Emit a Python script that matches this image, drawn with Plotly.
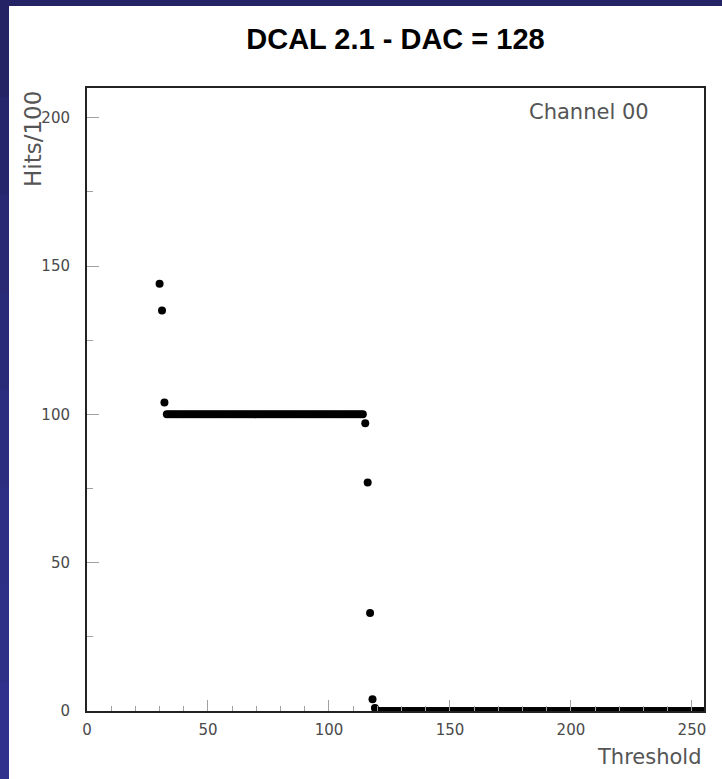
import plotly.graph_objects as go

# ---- data ----
thresholds = list(range(30, 256))
hits = ([144, 135, 104] + [100] * 82 + [97, 77, 33, 4, 1] + [0] * 136)

x_tick_vals = [0, 50, 100, 150, 200, 250]
y_tick_vals = [0, 50, 100, 150, 200]

title_text = "DCAL 2.1 - DAC = 128"
x_title = "Threshold"
y_title = "Hits/100"
channel_label = "Channel 00"

W, H = 722, 779
ML, MR, MT, MB = 87, 18, 88, 68
PW, PH = W - ML - MR, H - MT - MB


def px_to_paper_x(px):
    return (px - ML) / PW


def px_to_paper_y(py):
    return (H - MB - py) / PH


fig = go.Figure()
fig.add_trace(go.Scatter(
    x=thresholds, y=hits, mode="markers",
    marker=dict(color="black", size=8, symbol="circle", line=dict(width=0)),
    showlegend=False, hoverinfo="x+y",
))

tick_font = dict(family="DejaVu Sans", size=15, color="#4a4a4a")

fig.update_xaxes(
    range=[0, 255], tickvals=x_tick_vals, ticks="inside", ticklen=11,
    tickcolor="#a0a0a0", tickwidth=1,
    minor=dict(dtick=10, tick0=0, ticks="inside", ticklen=5, tickcolor="#a0a0a0", tickwidth=1),
    showgrid=False, zeroline=False, showline=True, linecolor="#222222", linewidth=2,
    mirror=True, tickfont=tick_font, ticklabelstandoff=4,
)
fig.update_yaxes(
    range=[0, 210], tickvals=y_tick_vals, ticks="inside", ticklen=12,
    tickcolor="#a0a0a0", tickwidth=1,
    minor=dict(dtick=25, tick0=0, ticks="inside", ticklen=6, tickcolor="#a0a0a0", tickwidth=1),
    showgrid=False, zeroline=False, showline=True, linecolor="#222222", linewidth=2,
    mirror=True, tickfont=tick_font, ticklabelstandoff=12,
)

# blue frame bands (decoration around the canvas)
shapes = []
band_cols = ["#232366", "#25266c", "#282972", "#2a2b78", "#2c2d7e", "#2d2f84", "#2e3088", "#2f318c"]
n = len(band_cols)
for i, c in enumerate(band_cols):
    y0 = i * H / n
    y1 = min(H, (i + 1) * H / n + 3)
    shapes.append(dict(type="rect", xref="paper", yref="paper",
                       x0=px_to_paper_x(0), x1=px_to_paper_x(9),
                       y0=px_to_paper_y(y1), y1=px_to_paper_y(y0),
                       fillcolor=c, line=dict(width=0), layer="above"))
shapes.append(dict(type="rect", xref="paper", yref="paper",
                   x0=px_to_paper_x(0), x1=px_to_paper_x(W),
                   y0=px_to_paper_y(6), y1=px_to_paper_y(0),
                   fillcolor="#232366", line=dict(width=0), layer="above"))

annotations = [
    dict(text=x_title, xref="paper", yref="paper", x=1.0, y=px_to_paper_y(757),
         xanchor="right", yanchor="middle", showarrow=False,
         font=dict(family="DejaVu Sans", size=21, color="#555555")),
    dict(text=y_title, xref="paper", yref="paper", x=px_to_paper_x(33), y=px_to_paper_y(89),
         xanchor="center", yanchor="top", textangle=-90, showarrow=False,
         font=dict(family="DejaVu Sans", size=23, color="#555555")),
    dict(text=channel_label, xref="paper", yref="paper", x=px_to_paper_x(651), y=px_to_paper_y(112),
         xanchor="right", yanchor="middle", showarrow=False,
         font=dict(family="DejaVu Sans", size=21, color="#555555")),
]

fig.update_layout(
    width=W, height=H,
    margin=dict(l=ML, r=MR, t=MT, b=MB),
    paper_bgcolor="white", plot_bgcolor="white",
    title=dict(text="<b>" + title_text + "</b>", x=0.5, xref="paper", xanchor="center",
               y=1 - 39 / H, yref="container", yanchor="middle",
               font=dict(family="Liberation Sans", size=29, color="black")),
    shapes=shapes, annotations=annotations,
)

fig.write_html(
    "out.html",
    config={"displayModeBar": False},
    post_script="document.body.style.margin='0';document.body.style.padding='0';"
                "document.documentElement.style.overflow='hidden';",
)
